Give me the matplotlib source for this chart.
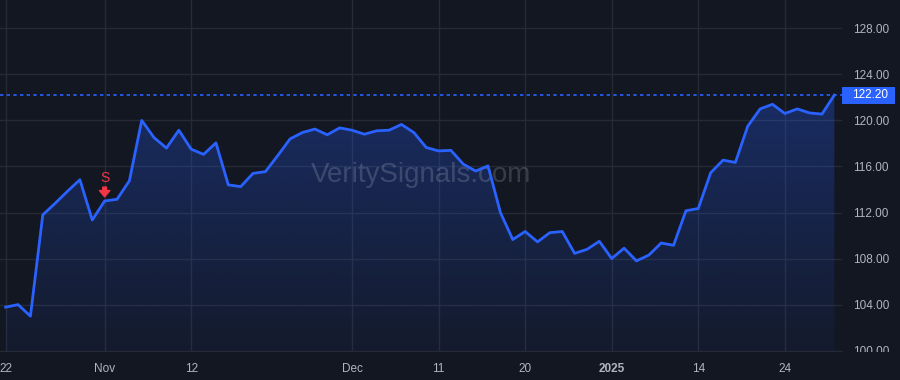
import numpy as np
import matplotlib
matplotlib.use("Agg")
import matplotlib.pyplot as plt
from matplotlib.patches import Rectangle

# closing prices, one per trading day (22 Oct 2024 .. 30 Jan 2025)
prices = [103.78, 104.0, 103.0, 111.8, 112.8, 113.85, 114.85, 111.35, 113.0, 113.15,
          114.75, 120.0, 118.5, 117.6, 119.15, 117.5, 117.05, 118.05, 114.4, 114.25,
          115.4, 115.55, 116.95, 118.4, 118.95, 119.25, 118.75, 119.35, 119.15, 118.8,
          119.1, 119.15, 119.65, 118.95, 117.65, 117.35, 117.4, 116.2, 115.6, 116.05,
          112.0, 109.65, 110.35, 109.45, 110.25, 110.35, 108.45, 108.8, 109.5, 108.0,
          108.9, 107.8, 108.3, 109.35, 109.15, 112.15, 112.35, 115.45, 116.55, 116.35,
          119.5, 121.0, 121.4, 120.6, 121.0, 120.65, 120.55, 122.2]
xtick_idx = [0, 8, 15, 28, 35, 42, 49, 56, 63]
xtick_labels = ["22", "Nov", "12", "Dec", "11", "20", "2025", "14", "24"]
ytick_vals = [100, 104, 108, 112, 116, 120, 124, 128]
last_price = 122.20
signal_idx = 8   # the "S" marker on 1 Nov

bg = "#131722"
grid_c = "#262a35"
line_c = "#2962ff"
txt_c = "#b2b5be"
red = "#f23645"

plt.rcParams["font.family"] = ["Liberation Sans", "DejaVu Sans"]

fig = plt.figure(figsize=(9, 3.8), dpi=100, facecolor=bg)
ax = fig.add_axes([0, 29 / 380, 842 / 900, 351 / 380])
ax.set_facecolor(bg)

x = np.arange(len(prices))
y = np.array(prices)
ymin, ymax = 99.97, 130.46

# gradient fill under the line
grad = np.linspace(0.05, 0.30, 256).reshape(-1, 1)
rgba = np.zeros((256, 1, 4))
rgba[..., 0] = 0x29 / 255
rgba[..., 1] = 0x62 / 255
rgba[..., 2] = 1.0
rgba[..., 3] = grad
im = ax.imshow(rgba, extent=[x[0], x[-1], ymin, 122.5], origin="lower",
               aspect="auto", zorder=1)
poly = ax.fill_between(x, y, ymin, color="none", lw=0)
im.set_clip_path(poly.get_paths()[0], transform=ax.transData)
ax.set_xlim(-0.46, 67.62)
ax.set_ylim(ymin, ymax)

ax.plot(x, y, color=line_c, lw=2, zorder=3, solid_joinstyle="round")

# last price line
ax.axhline(last_price, color=line_c, lw=1.2, ls=(0, (2, 2)), zorder=2)

# grid + ticks
ax.set_xticks(xtick_idx)
ax.set_xticklabels(xtick_labels)
ax.set_yticks(ytick_vals)
ax.set_yticklabels(["%.2f" % v for v in ytick_vals])
ax.grid(True, color=grid_c, lw=1)
ax.set_axisbelow(True)
for lab in ax.get_xticklabels():
    if lab.get_text() == "2025":
        lab.set_fontweight("bold")
ax.yaxis.tick_right()
ax.tick_params(axis="both", length=0, colors=txt_c, labelsize=8.5)
ax.tick_params(axis="x", pad=9)
ax.tick_params(axis="y", pad=8)
for s in ["left", "top", "right"]:
    ax.spines[s].set_visible(False)
ax.spines["bottom"].set_color(grid_c)

# watermark
ax.text(0.5, 0.5, "VeritySignals.com", transform=ax.transAxes, fontsize=20,
        color="#ffffff", alpha=0.16, ha="center", va="center", zorder=2)

# signal marker
sy = prices[signal_idx]
ax.annotate("", xy=(signal_idx, sy), xytext=(0, 10), textcoords="offset points",
            arrowprops=dict(arrowstyle="simple,head_width=0.75,head_length=0.45,tail_width=0.27",
                            mutation_scale=10, color=red, shrinkA=0, shrinkB=3),
            zorder=5)
ax.annotate("S", xy=(signal_idx, sy), xytext=(0, 16.3), textcoords="offset points",
            color=red, fontsize=10, ha="center", va="center", zorder=5)

# price label on the right axis
ylab = ax.transData.transform((0, last_price))[1]
fy = fig.transFigure.inverted().transform((0, ylab))[1]
fig.patches.append(Rectangle((842 / 900, fy - 8.5 / 380), 53 / 900, 17 / 380,
                             transform=fig.transFigure, facecolor=line_c,
                             edgecolor="none", zorder=5))
fig.text(870 / 900, fy, "%.2f" % last_price, color="white", fontsize=8.5,
         ha="center", va="center", zorder=6)

# clip y labels at the time axis
fig.patches.append(Rectangle((842 / 900, 0), 58 / 900, 28 / 380,
                             transform=fig.transFigure, facecolor=bg,
                             edgecolor="none", zorder=5))

fig.savefig("out.png", dpi=100, facecolor=bg)
